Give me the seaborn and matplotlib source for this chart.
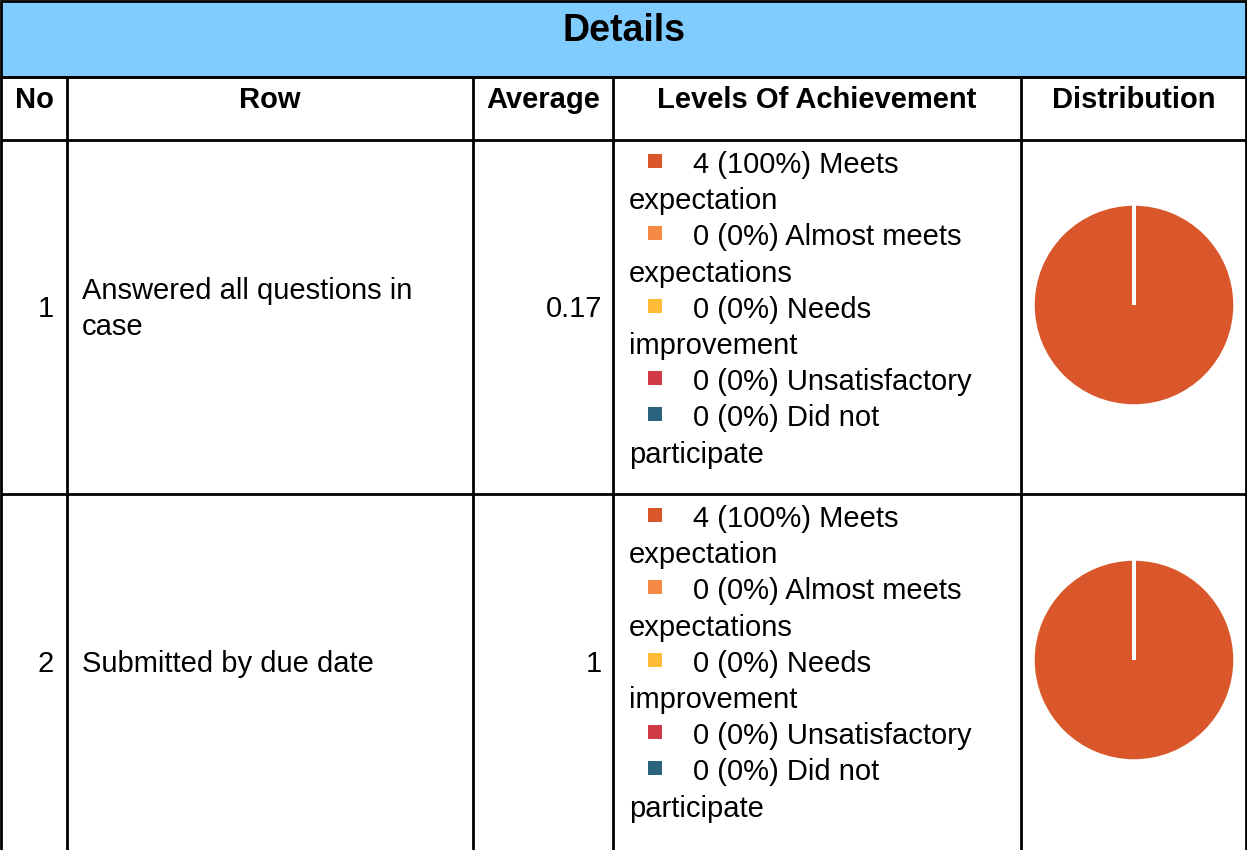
import matplotlib
matplotlib.use("Agg")
import matplotlib.pyplot as plt
import seaborn as sns

sns.set_theme(style="white")
plt.rcParams['font.family'] = ['Liberation Sans', 'DejaVu Sans']
plt.rcParams['text.color'] = 'black'

# ---- data ----
title = "Details"
headers = ["No", "Row", "Average", "Levels Of Achievement", "Distribution"]
row_numbers = ["1", "2"]
row_labels = ["Answered all questions in\ncase", "Submitted by due date"]
averages = ["0.17", "1"]
levels = ["Meets expectation", "Almost meets expectations", "Needs improvement",
          "Unsatisfactory", "Did not participate"]
counts_row1 = [4, 0, 0, 0, 0]
counts_row2 = [4, 0, 0, 0, 0]
percent_row1 = ["100%", "0%", "0%", "0%", "0%"]
percent_row2 = ["100%", "0%", "0%", "0%", "0%"]
# wrapped legend lines: (first line text, continuation)
legend_lines = [("Meets", "expectation"), ("Almost meets", "expectations"),
                ("Needs", "improvement"), ("Unsatisfactory", None),
                ("Did not", "participate")]
level_colors = sns.color_palette(["#D9572A", "#F58A45", "#FDBB36", "#D13A47", "#2A637B"])

W, H = 1247, 850
fig = plt.figure(figsize=(W / 100, H / 100), dpi=100)
ax = fig.add_axes([0, 0, 1, 1])
ax.set_xlim(0, W)
ax.set_ylim(H, 0)
ax.axis("off")

# layout (pixels)
col_x = [1, 67, 473, 613, 1021, 1246]
title_bottom = 77
header_bottom = 140
row_tops = [140, 494]
row_bottoms = [494, 850]
lw = 2.0
fs = 21
dy = 3  # text vertical offset

# title band
ax.add_patch(plt.Rectangle((1, 1), W - 2, title_bottom - 1, facecolor="#80CCFF",
                           edgecolor="black", lw=lw))
ax.text(624, 31, title, ha="center", va="center", fontsize=27, fontweight="bold")

# grid lines
for y in [title_bottom, header_bottom, row_tops[1]]:
    ax.plot([1, 1246], [y, y], color="black", lw=lw, solid_capstyle="butt")
for x in col_x:
    ax.plot([x, x], [title_bottom, H], color="black", lw=lw, solid_capstyle="butt")

# headers
for i, h in enumerate(headers):
    cx = (col_x[i] + col_x[i + 1]) / 2
    ax.text(cx, 100, h, ha="center", va="center", fontsize=fs, fontweight="bold")

counts = [counts_row1, counts_row2]
percents = [percent_row1, percent_row2]
for r in range(2):
    top, bot = row_tops[r], row_bottoms[r]
    cy = (top + bot) / 2 - 12
    ax.text(54, cy + dy + 1, row_numbers[r], ha="right", va="center", fontsize=fs)
    ax.text(82, cy + dy + 1, row_labels[r], ha="left", va="center", fontsize=fs, linespacing=1.38)
    ax.text(602, cy + dy + 1, averages[r], ha="right", va="center", fontsize=fs)

    # legend lines
    y = top + 22
    step = 36.2
    for k in range(len(levels)):
        ax.scatter([655], [y - 1], marker="s", s=110, color=level_colors[k], linewidths=0)
        ax.text(693, y + dy, f"{counts[r][k]} ({percents[r][k]}) {legend_lines[k][0]}",
                ha="left", va="center", fontsize=fs)
        y += step
        if legend_lines[k][1]:
            ax.text(629, y + dy, legend_lines[k][1], ha="left", va="center", fontsize=fs)
            y += step

    # pie
    pcx, pcy, rad = 1134, cy, 101
    pax = fig.add_axes([(pcx - rad) / W, 1 - (pcy + rad) / H, 2 * rad / W, 2 * rad / H])
    pax.pie(counts[r], colors=level_colors, startangle=90, counterclock=False,
            wedgeprops=dict(edgecolor="white", linewidth=2.5), radius=1.0)
    pax.set_xlim(-1.0, 1.0)
    pax.set_ylim(-1.0, 1.0)
    pax.set_aspect("equal")
    pax.axis("off")

fig.savefig("out.png", dpi=100)
